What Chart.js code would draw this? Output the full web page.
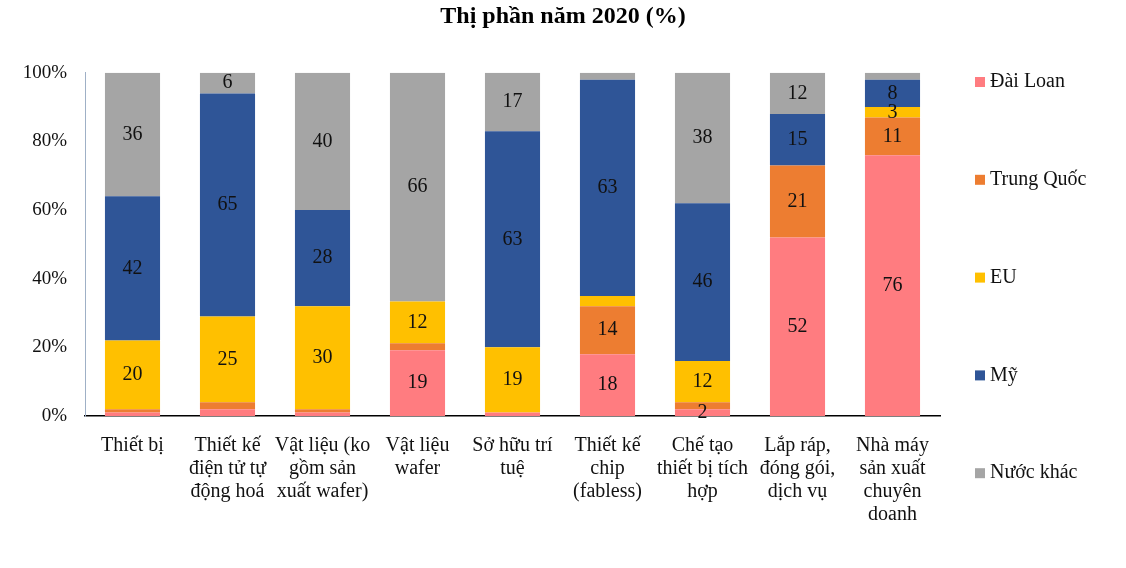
<!DOCTYPE html>
<html>
<head>
<meta charset="utf-8">
<script src="https://cdn.jsdelivr.net/npm/chart.js@4/dist/chart.umd.min.js"></script>
<style>
  html, body { margin: 0; padding: 0; background: #fff; }
  #wrap { width: 1126px; height: 568px; }
</style>
</head>
<body>
<div id="wrap"><canvas id="shareChart"></canvas></div>
<script>
const categories = [
    'Thiết bị',
    ['Thiết kế', 'điện tử tự', 'động hoá'],
    ['Vật liệu (ko', 'gồm sản', 'xuất wafer)'],
    ['Vật liệu', 'wafer'],
    ['Sở hữu trí', 'tuệ'],
    ['Thiết kế', 'chip', '(fabless)'],
    ['Chế tạo', 'thiết bị tích', 'hợp'],
    ['Lắp ráp,', 'đóng gói,', 'dịch vụ'],
    ['Nhà máy', 'sản xuất', 'chuyên', 'doanh']
];

const taiwan = [1, 2, 1, 19, 1, 18, 2, 52, 76];
const china = [1, 2, 1, 2, 0, 14, 2, 21, 11];
const eu = [20, 25, 30, 12, 19, 3, 12, 0, 3];
const usa = [42, 65, 28, 0, 63, 63, 46, 15, 8];
const others = [36, 6, 40, 66, 17, 2, 38, 12, 2];

const yTicks = [0, 20, 40, 60, 80, 100];

// small segments that still carry a label: [series, category]
const smallLabels = [[0, 6], [2, 8]];

const seriesNames = ['Đài Loan', 'Trung Quốc', 'EU', 'Mỹ', 'Nước khác'];
const seriesColors = ['#FF7C80', '#ED7D31', '#FFC000', '#2F5597', '#A5A5A5'];
const rawSeries = [taiwan, china, eu, usa, others];

// 100% stacked: each column is scaled to its own total
const totals = categories.map((c, i) => rawSeries.reduce((s, arr) => s + arr[i], 0));

const serif = '"Liberation Serif", "Times New Roman", serif';

const barLabels = {
    id: 'barLabels',
    afterDatasetsDraw(chart) {
        const ctx = chart.ctx;
        ctx.save();
        ctx.font = '20px ' + serif;
        ctx.fillStyle = '#111';
        ctx.textAlign = 'center';
        ctx.textBaseline = 'middle';
        chart.data.datasets.forEach((ds, si) => {
            const meta = chart.getDatasetMeta(si);
            meta.data.forEach((bar, ci) => {
                const v = rawSeries[si][ci];
                const forced = smallLabels.some(p => p[0] === si && p[1] === ci);
                if (v < 6 && !forced) return;
                ctx.fillText(String(v), bar.x, (bar.y + bar.base) / 2);
            });
        });
        ctx.restore();
    }
};

const sideLegend = {
    id: 'sideLegend',
    afterDraw(chart) {
        const ctx = chart.ctx;
        const x = chart.chartArea.right + 35;
        const top = 82, step = 97.8;
        ctx.save();
        ctx.font = '20px ' + serif;
        ctx.textBaseline = 'middle';
        ctx.textAlign = 'left';
        seriesNames.forEach((name, i) => {
            const y = top + i * step;
            ctx.fillStyle = seriesColors[i];
            ctx.fillRect(x, y - 5, 10, 10);
            ctx.fillStyle = '#111';
            ctx.fillText(name, x + 15, y);
        });
        ctx.restore();
    }
};

const ctx = document.getElementById('shareChart').getContext('2d');

const chart = new Chart(ctx, {
    type: 'bar',
    data: {
        labels: categories,
        datasets: rawSeries.map((arr, i) => ({
            label: seriesNames[i],
            data: arr.map((v, ci) => v / totals[ci] * 100),
            backgroundColor: seriesColors[i],
            categoryPercentage: 1,
            barPercentage: 0.58,
            borderWidth: 0
        }))
    },
    options: {
        responsive: true,
        maintainAspectRatio: false,
        animation: false,
        plugins: {
            legend: { display: false },
            tooltip: { enabled: false },
            title: {
                display: true,
                text: 'Thị phần năm 2020 (%)',
                color: '#000',
                font: { family: serif, size: 24, weight: 'bold' },
                padding: { top: 2, bottom: 42 }
            }
        },
        scales: {
            x: {
                stacked: true,
                grid: { display: false },
                border: { display: true, color: '#000', width: 1.5 },
                ticks: {
                    color: '#111',
                    font: { family: serif, size: 20, lineHeight: 1.15 },
                    maxRotation: 0,
                    autoSkip: false,
                    padding: 10
                },
                afterFit(scale) { scale.height = 152; }
            },
            y: {
                stacked: true,
                min: 0,
                max: 100,
                afterBuildTicks(scale) { scale.ticks = yTicks.map(v => ({ value: v })); },
                grid: { display: false },
                border: { display: true, color: '#9FB0C6', width: 1 },
                ticks: {
                    color: '#111',
                    font: { family: serif, size: 19 },
                    padding: 10,
                    callback: v => v + '%'
                },
                afterFit(scale) { scale.width = 85; }
            },
            // empty right-hand axis that only reserves room for the legend
            legendSpace: {
                type: 'linear',
                position: 'right',
                display: true,
                grid: { display: false },
                border: { display: false },
                ticks: { display: false },
                afterFit(scale) { scale.width = 186; }
            }
        }
    },
    plugins: [barLabels, sideLegend]
});
</script>
</body>
</html>
